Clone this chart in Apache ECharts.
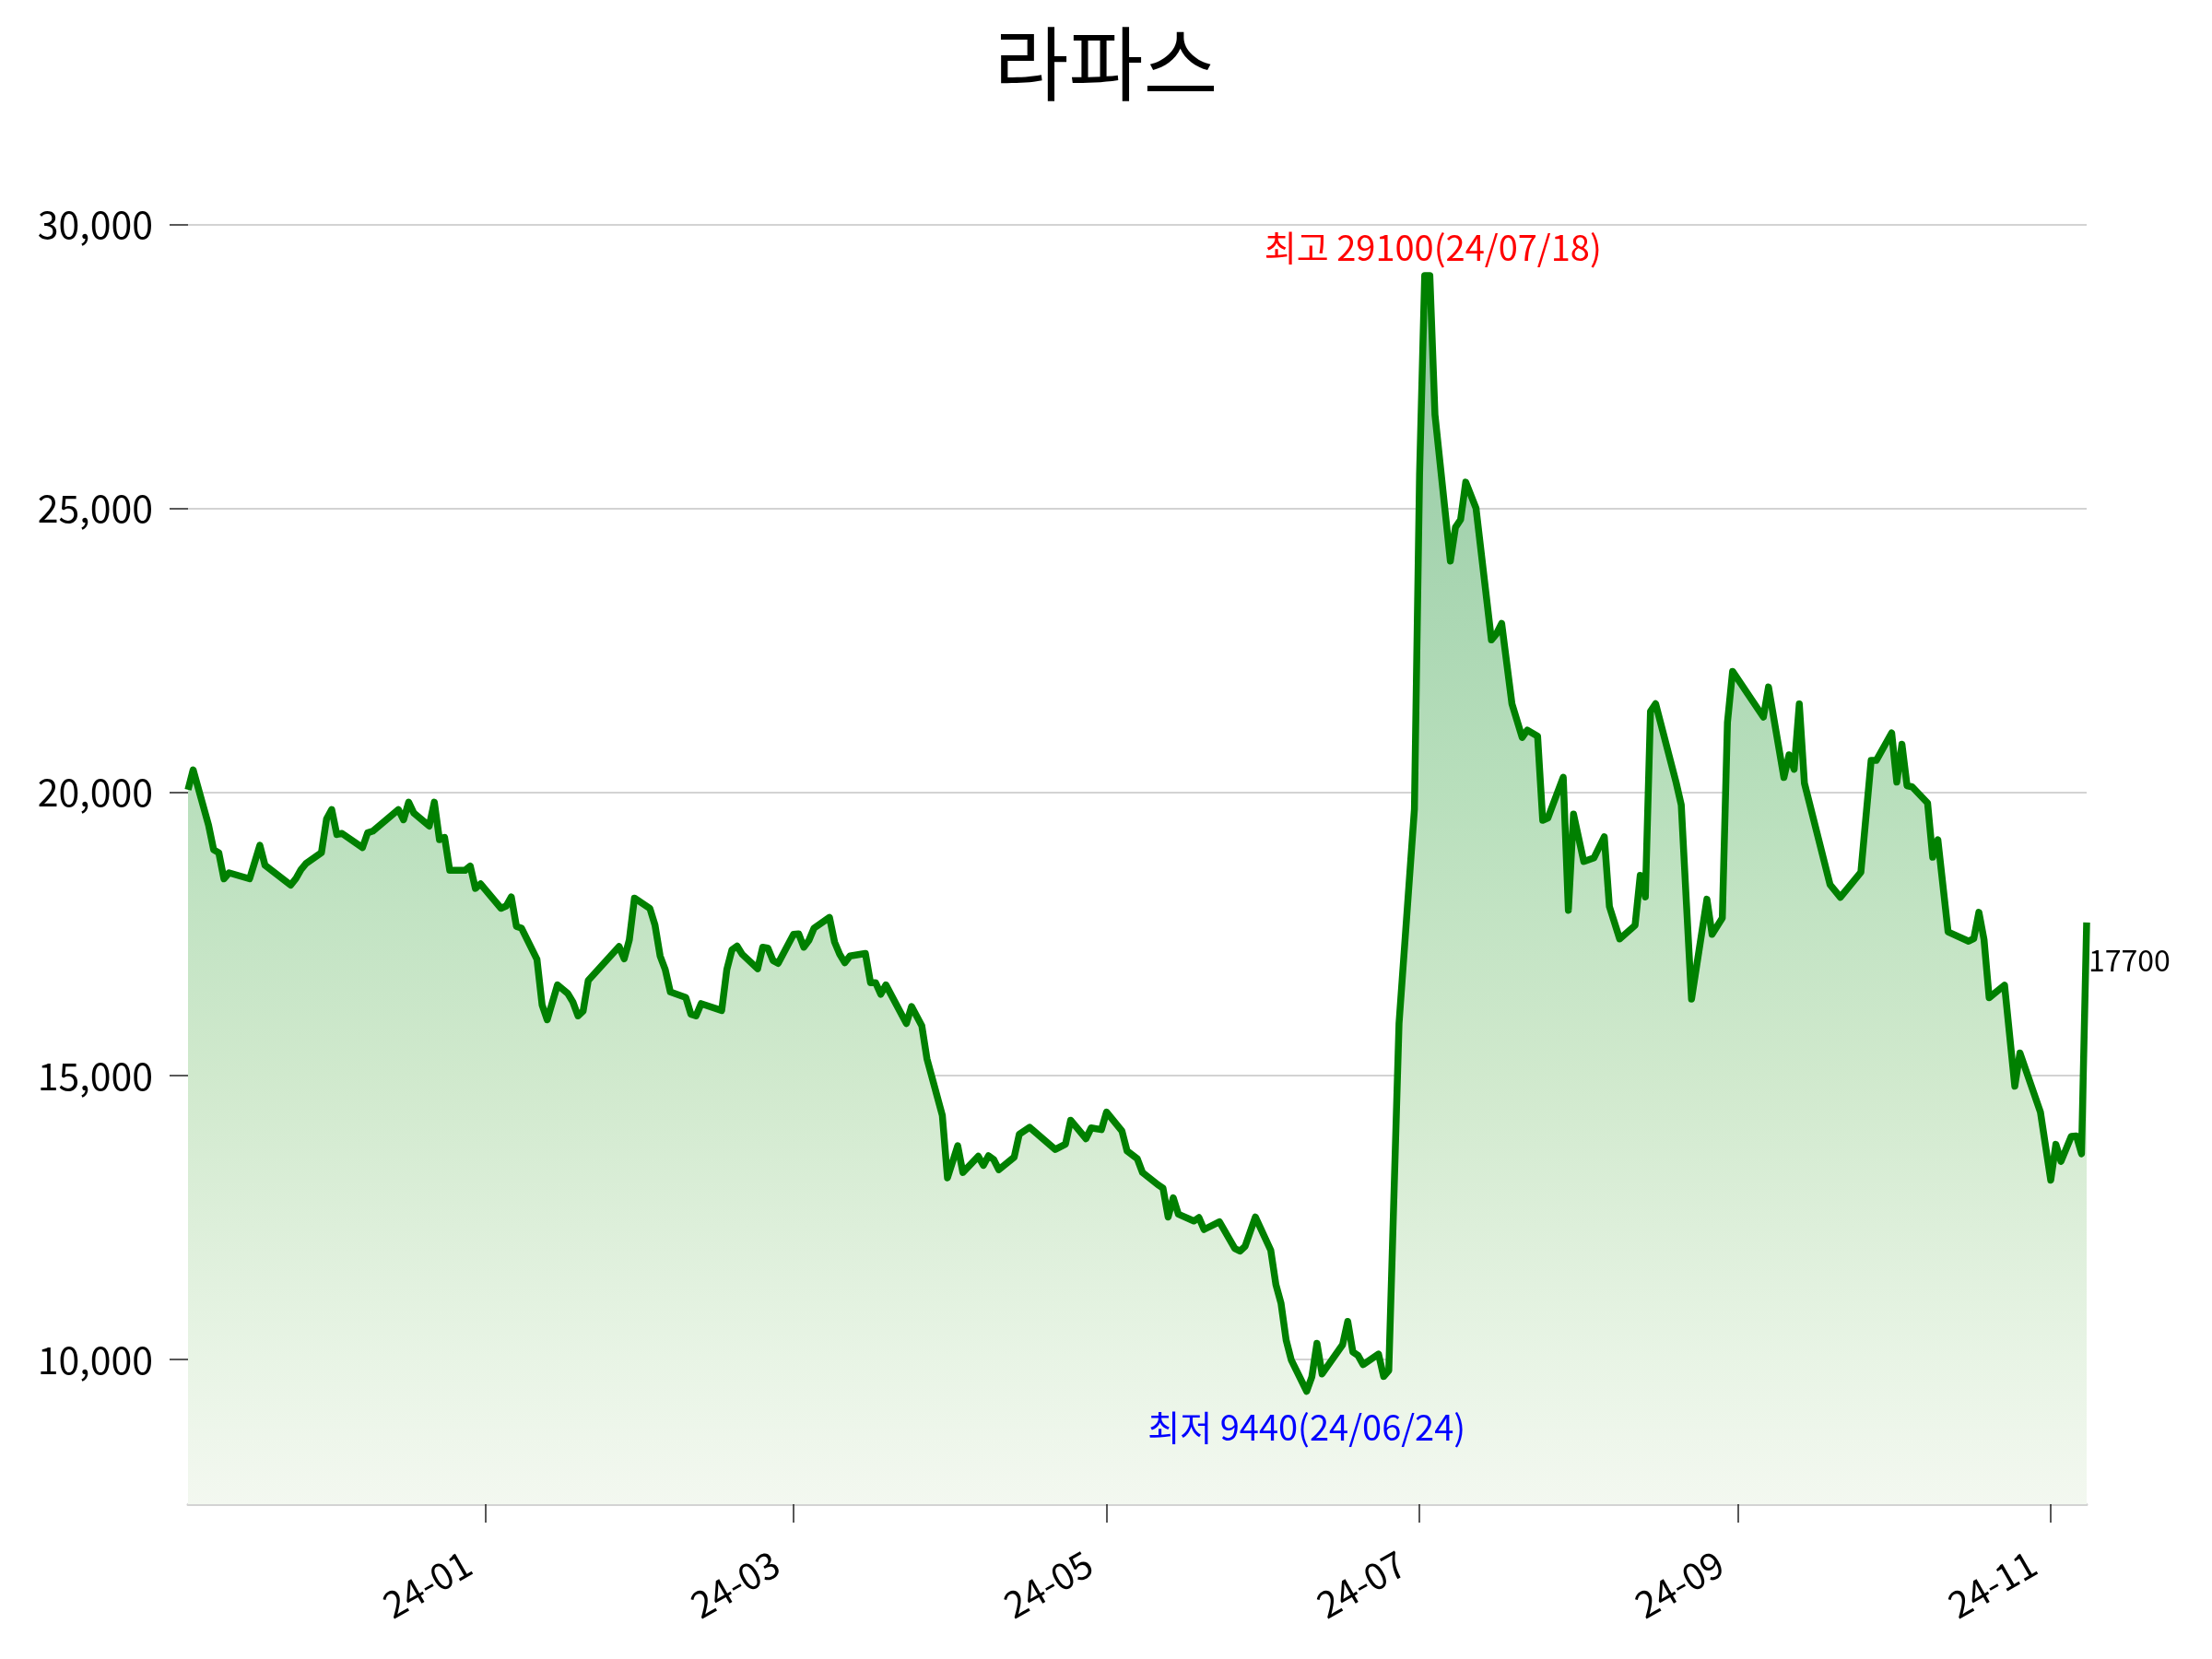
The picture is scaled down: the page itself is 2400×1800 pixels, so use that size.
<!DOCTYPE html>
<html>
<head>
<meta charset="utf-8">
<title>라파스</title>
<script src="https://cdn.jsdelivr.net/npm/echarts/dist/echarts.min.js"></script>
<style>
    html, body { margin: 0; padding: 0; background: #fff; }
    #chart { width: 2400px; height: 1800px; }
</style>
</head>
<body>
<div id="chart"></div>
<script>
'use strict';
// 종가 (읽은 값)
var dates = [
    '2023-11-04', '2023-11-05', '2023-11-08', '2023-11-09', '2023-11-10', '2023-11-11', '2023-11-12',
    '2023-11-16', '2023-11-18', '2023-11-19', '2023-11-24', '2023-11-25', '2023-11-26', '2023-11-27', '2023-11-30',
    '2023-12-01', '2023-12-02', '2023-12-03', '2023-12-04', '2023-12-08', '2023-12-09', '2023-12-10',
    '2023-12-15', '2023-12-16', '2023-12-17', '2023-12-18', '2023-12-21', '2023-12-22', '2023-12-23',
    '2023-12-24', '2023-12-25', '2023-12-28', '2023-12-29', '2023-12-30', '2023-12-31',
    '2024-01-04', '2024-01-05', '2024-01-06', '2024-01-07', '2024-01-08', '2024-01-11', '2024-01-12',
    '2024-01-13', '2024-01-15', '2024-01-17', '2024-01-18', '2024-01-19', '2024-01-20', '2024-01-21',
    '2024-01-27', '2024-01-28', '2024-01-29', '2024-01-30',
    '2024-02-02', '2024-02-03', '2024-02-04', '2024-02-05', '2024-02-06', '2024-02-09', '2024-02-10',
    '2024-02-11', '2024-02-12', '2024-02-16', '2024-02-17', '2024-02-18', '2024-02-19', '2024-02-20',
    '2024-02-23', '2024-02-24', '2024-02-25', '2024-02-26', '2024-02-27',
    '2024-03-01', '2024-03-02', '2024-03-03', '2024-03-04', '2024-03-05', '2024-03-08', '2024-03-09',
    '2024-03-10', '2024-03-11', '2024-03-12', '2024-03-15', '2024-03-16', '2024-03-17', '2024-03-18',
    '2024-03-19', '2024-03-23', '2024-03-24', '2024-03-26', '2024-03-27', '2024-03-30', '2024-03-31',
    '2024-04-02', '2024-04-03', '2024-04-06', '2024-04-07', '2024-04-08', '2024-04-09', '2024-04-10',
    '2024-04-13', '2024-04-14', '2024-04-16', '2024-04-21', '2024-04-23', '2024-04-24', '2024-04-27',
    '2024-04-28', '2024-04-30',
    '2024-05-01', '2024-05-04', '2024-05-05', '2024-05-07', '2024-05-08', '2024-05-11', '2024-05-12',
    '2024-05-13', '2024-05-14', '2024-05-15', '2024-05-18', '2024-05-19', '2024-05-20', '2024-05-23',
    '2024-05-26', '2024-05-27', '2024-05-28', '2024-05-30',
    '2024-06-02', '2024-06-03', '2024-06-04', '2024-06-05', '2024-06-06', '2024-06-09', '2024-06-10',
    '2024-06-11', '2024-06-12', '2024-06-16', '2024-06-17', '2024-06-18', '2024-06-19', '2024-06-20',
    '2024-06-23', '2024-06-24', '2024-06-25', '2024-06-27', '2024-06-30',
    '2024-07-01', '2024-07-02', '2024-07-03', '2024-07-04', '2024-07-07', '2024-07-08', '2024-07-09',
    '2024-07-10', '2024-07-12', '2024-07-15', '2024-07-16', '2024-07-17', '2024-07-19', '2024-07-21',
    '2024-07-22', '2024-07-24', '2024-07-25', '2024-07-26', '2024-07-29', '2024-07-30', '2024-07-31',
    '2024-08-02', '2024-08-04', '2024-08-06', '2024-08-07', '2024-08-09', '2024-08-12', '2024-08-13',
    '2024-08-14', '2024-08-15', '2024-08-16', '2024-08-20', '2024-08-21', '2024-08-22', '2024-08-23',
    '2024-08-26', '2024-08-27', '2024-08-29', '2024-08-30', '2024-08-31',
    '2024-09-06', '2024-09-07', '2024-09-10', '2024-09-11', '2024-09-12', '2024-09-13', '2024-09-14',
    '2024-09-19', '2024-09-21', '2024-09-25', '2024-09-27', '2024-09-28',
    '2024-10-01', '2024-10-02', '2024-10-03', '2024-10-04', '2024-10-05', '2024-10-08', '2024-10-09',
    '2024-10-10', '2024-10-12', '2024-10-16', '2024-10-17', '2024-10-18', '2024-10-19', '2024-10-20',
    '2024-10-23', '2024-10-25', '2024-10-26', '2024-10-30',
    '2024-11-01', '2024-11-02', '2024-11-03', '2024-11-05', '2024-11-06', '2024-11-07', '2024-11-08'
];
var prices = [
    20040, 20390, 19415, 18980, 18930, 18470, 18575,
    18470, 19060, 18710, 18360, 18470, 18630, 18740, 18930,
    19525, 19690, 19250, 19270, 19020, 19280, 19310,
    19690, 19510, 19820, 19630, 19400, 19820, 19160,
    19200, 18620, 18620, 18695, 18300, 18380,
    17950, 17990, 18150, 17630, 17600, 17050, 16250,
    15985, 16600, 16450, 16300, 16055, 16140, 16680,
    17275, 17060, 17395, 18130,
    17950, 17655, 17110, 16870, 16475, 16380, 16085,
    16055, 16270, 16150, 16870, 17220, 17285, 17140,
    16885, 17265, 17250, 17030, 16980,
    17490, 17500, 17265, 17385, 17600, 17790, 17355,
    17140, 16990, 17110, 17155, 16640, 16640, 16435,
    16600, 15920, 16220, 15880, 15300, 14300, 13200,
    13765, 13295, 13580, 13420, 13590, 13525, 13345,
    13565, 13970, 14090, 13700, 13795, 14215, 13890,
    14080, 14050,
    14360, 14025, 13675, 13535, 13295, 13080, 13020,
    12510, 12850, 12560, 12440, 12500, 12290, 12425,
    11955, 11910, 11995, 12510,
    11925, 11320, 10990, 10340, 9990, 9440, 9690,
    10285, 9745, 10260, 10670, 10130, 10070, 9910,
    10095, 9700, 9805, 15925, 19700,
    25595, 29100, 29100, 26650, 24070, 24665, 24800,
    25460, 25000, 22680, 22790, 22970, 21555, 20960,
    21090, 20985, 19500, 19540, 20260, 17915, 19610,
    18775, 18840, 19210, 17980, 17410, 17650, 18530,
    18150, 21420, 21555, 20165, 19770, 18045, 16350,
    18110, 17490, 17780, 21225, 22125,
    21320, 21850, 20255, 20655, 20400, 21550, 20155,
    18365, 18145, 18585, 20555, 20555,
    21040, 20175, 20840, 20110, 20090, 19805, 18850,
    19160, 17535, 17370, 17415, 17880, 17400, 16375,
    16595, 14815, 15400, 14355,
    13160, 13790, 13490, 13930, 13940, 13625, 17700
];
var yTicks = [10000, 15000, 20000, 25000, 30000];
var xTicks = ['2024-01-01', '2024-03-01', '2024-05-01', '2024-07-01', '2024-09-01', '2024-11-01'];
var highDateLabel = '24/07/18';
var lowDateLabel = '24/06/24';

var FONT = '"Noto Sans CJK KR", "Noto Sans", sans-serif';

// 'YYYY-MM-DD' -> 로컬 시간 timestamp
function ts(s) {
    var p = s.split('-');
    return new Date(+p[0], +p[1] - 1, +p[2]).getTime();
}

var seriesData = [];
for (var i = 0; i < dates.length; i++) {
    seriesData.push([ts(dates[i]), prices[i]]);
}
var hi = Math.max.apply(null, prices);
var lo = Math.min.apply(null, prices);
var hiIdx = prices.indexOf(hi);
var loIdx = prices.indexOf(lo);
var lastIdx = prices.length - 1;

var myChart = echarts.init(document.getElementById('chart'), null, {renderer: 'canvas'});
myChart.setOption({
    animation: false,
    backgroundColor: '#fff',
    title: {
        text: '라파스',
        left: 'center',
        top: 20,
        textStyle: {fontFamily: FONT, fontSize: 88, fontWeight: 'normal', color: '#000'}
    },
    grid: {left: 204, right: 136, top: 182, bottom: 168},
    // 날짜축: timestamp 값축 (월 눈금 직접 지정)
    xAxis: {
        type: 'value',
        min: ts(dates[0]),
        max: ts(dates[lastIdx]),
        axisLine: {onZero: false, lineStyle: {color: '#d3d3d3', width: 3}},
        axisTick: {
            length: 20,
            customValues: xTicks.map(ts),
            lineStyle: {color: '#222', width: 1.5}
        },
        axisLabel: {
            customValues: xTicks.map(ts),
            rotate: 30,
            margin: 50,
            padding: [0, 22, 0, 0],
            fontFamily: FONT,
            fontSize: 40,
            color: '#000',
            formatter: function (v) {
                var d = new Date(v);
                var m = d.getMonth() + 1;
                return String(d.getFullYear()).slice(2) + '-' + (m < 10 ? '0' + m : m);
            }
        },
        splitLine: {show: false}
    },
    yAxis: {
        type: 'value',
        min: 7450,
        max: 31000,
        axisLine: {show: false},
        axisTick: {
            show: true,
            length: 20,
            customValues: yTicks,
            lineStyle: {color: '#222', width: 1.5}
        },
        axisLabel: {
            customValues: yTicks,
            margin: 38,
            fontFamily: FONT,
            fontSize: 41,
            color: '#000',
            formatter: function (v) {
                return v.toLocaleString('en-US');
            }
        },
        splitLine: {show: true, lineStyle: {color: '#d3d3d3', width: 2}}
    },
    series: [
        {
            type: 'line',
            data: seriesData,
            showSymbol: false,
            lineStyle: {color: '#008000', width: 7.5, join: 'round'},
            areaStyle: {
                origin: 'start',
                opacity: 1,
                color: new echarts.graphic.LinearGradient(0, 0, 0, 1, [
                    {offset: 0, color: '#92c8a2'},
                    {offset: 0.42, color: '#b8dfbc'},
                    {offset: 0.65, color: '#d0e9cd'},
                    {offset: 0.88, color: '#e8f4e5'},
                    {offset: 1, color: '#f3f8f0'}
                ])
            },
            markPoint: {
                symbol: 'circle',
                symbolSize: 0,
                data: [
                    {
                        coord: seriesData[hiIdx],
                        label: {
                            show: true, position: 'inside', offset: [9, -30],
                            formatter: '최고 ' + hi + '(' + highDateLabel + ')',
                            color: '#ff0000', fontFamily: FONT, fontSize: 38
                        }
                    },
                    {
                        coord: seriesData[loIdx],
                        label: {
                            show: true, position: 'inside', offset: [0, 39],
                            formatter: '최저 ' + lo + '(' + lowDateLabel + ')',
                            color: '#0000ff', fontFamily: FONT, fontSize: 38
                        }
                    },
                    {
                        coord: seriesData[lastIdx],
                        label: {
                            show: true, position: 'right', distance: 2, offset: [0, 41],
                            formatter: String(prices[lastIdx]),
                            color: '#000', fontFamily: FONT, fontSize: 32
                        }
                    }
                ]
            }
        }
    ]
});
</script>
</body>
</html>
